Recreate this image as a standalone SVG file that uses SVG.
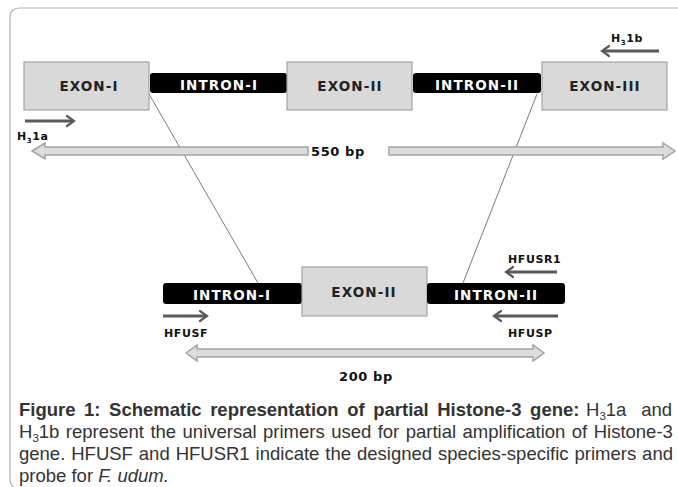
<svg xmlns="http://www.w3.org/2000/svg" width="678" height="487" viewBox="0 0 678 487">
<style>
.exon{fill:#d9d9d9;stroke:#a3a3a3;stroke-width:1.2}
.intron{fill:#000}
.lbl{font-family:"DejaVu Sans",Verdana,sans-serif;font-weight:bold;font-size:13.5px;letter-spacing:1.1px;text-anchor:middle}
.dk{fill:#222}
.wt{fill:#fff}
.pl{font-family:"DejaVu Sans",Verdana,sans-serif;font-weight:bold;font-size:11px;fill:#111;letter-spacing:0.6px}
.sub{font-size:7px}
.pr{stroke:#5a5a5a;stroke-width:3;fill:none}
.ph{stroke:#5a5a5a;stroke-width:2.2;fill:none;stroke-linecap:round}
.bp{fill:#dcdcdc;stroke:#a3a3a3;stroke-width:1.5}
.conn{stroke:#7a7a7a;stroke-width:1;fill:none}
.cap{font-family:"Liberation Sans",Arial,sans-serif;font-size:18.5px;fill:#333}
</style>
<path d="M14 487 Q10 485 10 478 L10 18 Q10 8 20 8 L678 8" fill="none" stroke="#b0b0b0" stroke-width="1.2"/>
<g id="connectors">
<line class="conn" x1="149" y1="94" x2="258" y2="283"/>
<line class="conn" x1="537" y1="94" x2="463" y2="283"/>
</g>
<g id="exon1"><rect class="exon" x="24" y="62" width="125" height="48"/><text class="lbl dk" x="89" y="91">EXON-I</text></g>
<g id="intron1"><rect class="intron" x="150" y="73" width="137" height="20" rx="3"/><text class="lbl wt" x="219" y="90">INTRON-I</text></g>
<g id="exon2"><rect class="exon" x="287" y="62" width="125" height="48"/><text class="lbl dk" x="350" y="91">EXON-II</text></g>
<g id="intron2"><rect class="intron" x="413" y="73" width="128" height="20" rx="3"/><text class="lbl wt" x="477" y="90">INTRON-II</text></g>
<g id="exon3"><rect class="exon" x="542" y="62" width="125" height="48"/><text class="lbl dk" x="605" y="91">EXON-III</text></g>
<g id="intron1b"><rect class="intron" x="163" y="283" width="139" height="21" rx="3"/><text class="lbl wt" x="232" y="300">INTRON-I</text></g>
<g id="exon2b"><rect class="exon" x="302" y="267" width="125" height="49"/><text class="lbl dk" x="364" y="297">EXON-II</text></g>
<g id="intron2b"><rect class="intron" x="427" y="283" width="138" height="21" rx="3"/><text class="lbl wt" x="496" y="300">INTRON-II</text></g>
<g id="primer-h31a"><line class="pr" x1="25" y1="121" x2="73" y2="121"/><polyline class="ph" points="67,116 74,121 67,126"/><text class="pl" x="17" y="140">H<tspan class="sub" dy="3">3</tspan><tspan dy="-3">1a</tspan></text></g>
<g id="primer-h31b"><line class="pr" x1="659" y1="51" x2="603" y2="51"/><polyline class="ph" points="609,46 602,51 609,56"/><text class="pl" x="611" y="42">H<tspan class="sub" dy="3">3</tspan><tspan dy="-3">1b</tspan></text></g>
<g id="primer-hfusr1"><line class="pr" x1="557" y1="272" x2="507" y2="272"/><polyline class="ph" points="513,267 506,272 513,277"/><text class="pl" x="508" y="263">HFUSR1</text></g>
<g id="primer-hfusp"><line class="pr" x1="558" y1="316" x2="495" y2="316"/><polyline class="ph" points="501,311 494,316 501,321"/><text class="pl" x="508" y="337">HFUSP</text></g>
<g id="primer-hfusf"><line class="pr" x1="163" y1="316" x2="206" y2="316"/><polyline class="ph" points="200,311 207,316 200,321"/><text class="pl" x="164" y="337">HFUSF</text></g>
<g id="span-550">
<polygon class="bp" points="32,151 45,143 45,147 308,147 308,155 45,155 45,159"/>
<polygon class="bp" points="389,147 663,147 663,143 675,151 663,159 663,155 389,155"/>
<text class="pl" x="338" y="156" style="font-size:13px;text-anchor:middle">550 bp</text>
</g>
<g id="span-200">
<polygon class="bp" points="186,353 197,345 197,349 533,349 533,345 544,353 533,361 533,357 197,357 197,361"/>
<text class="pl" x="366" y="381" style="font-size:13px;text-anchor:middle">200 bp</text>
</g>
<g id="caption">
<text class="cap" x="19" y="416" font-weight="bold" word-spacing="3.4">Figure 1: Schematic representation of partial Histone-3 gene:</text>
<text class="cap" x="586" y="416">H<tspan font-size="11.5" dy="4">3</tspan><tspan dy="-4">1a</tspan></text>
<text class="cap" x="672" y="416" text-anchor="end">and</text>
<text class="cap" x="19" y="438" word-spacing="1.3">H<tspan font-size="11.5" dy="4">3</tspan><tspan dy="-4">1b represent the universal primers used for partial amplification of Histone-3</tspan></text>
<text class="cap" x="19" y="460" word-spacing="0.8">gene. HFUSF and HFUSR1 indicate the designed species-specific primers and</text>
<text class="cap" x="19" y="482">probe for <tspan font-style="italic">F. udum.</tspan></text>
</g>
</svg>
